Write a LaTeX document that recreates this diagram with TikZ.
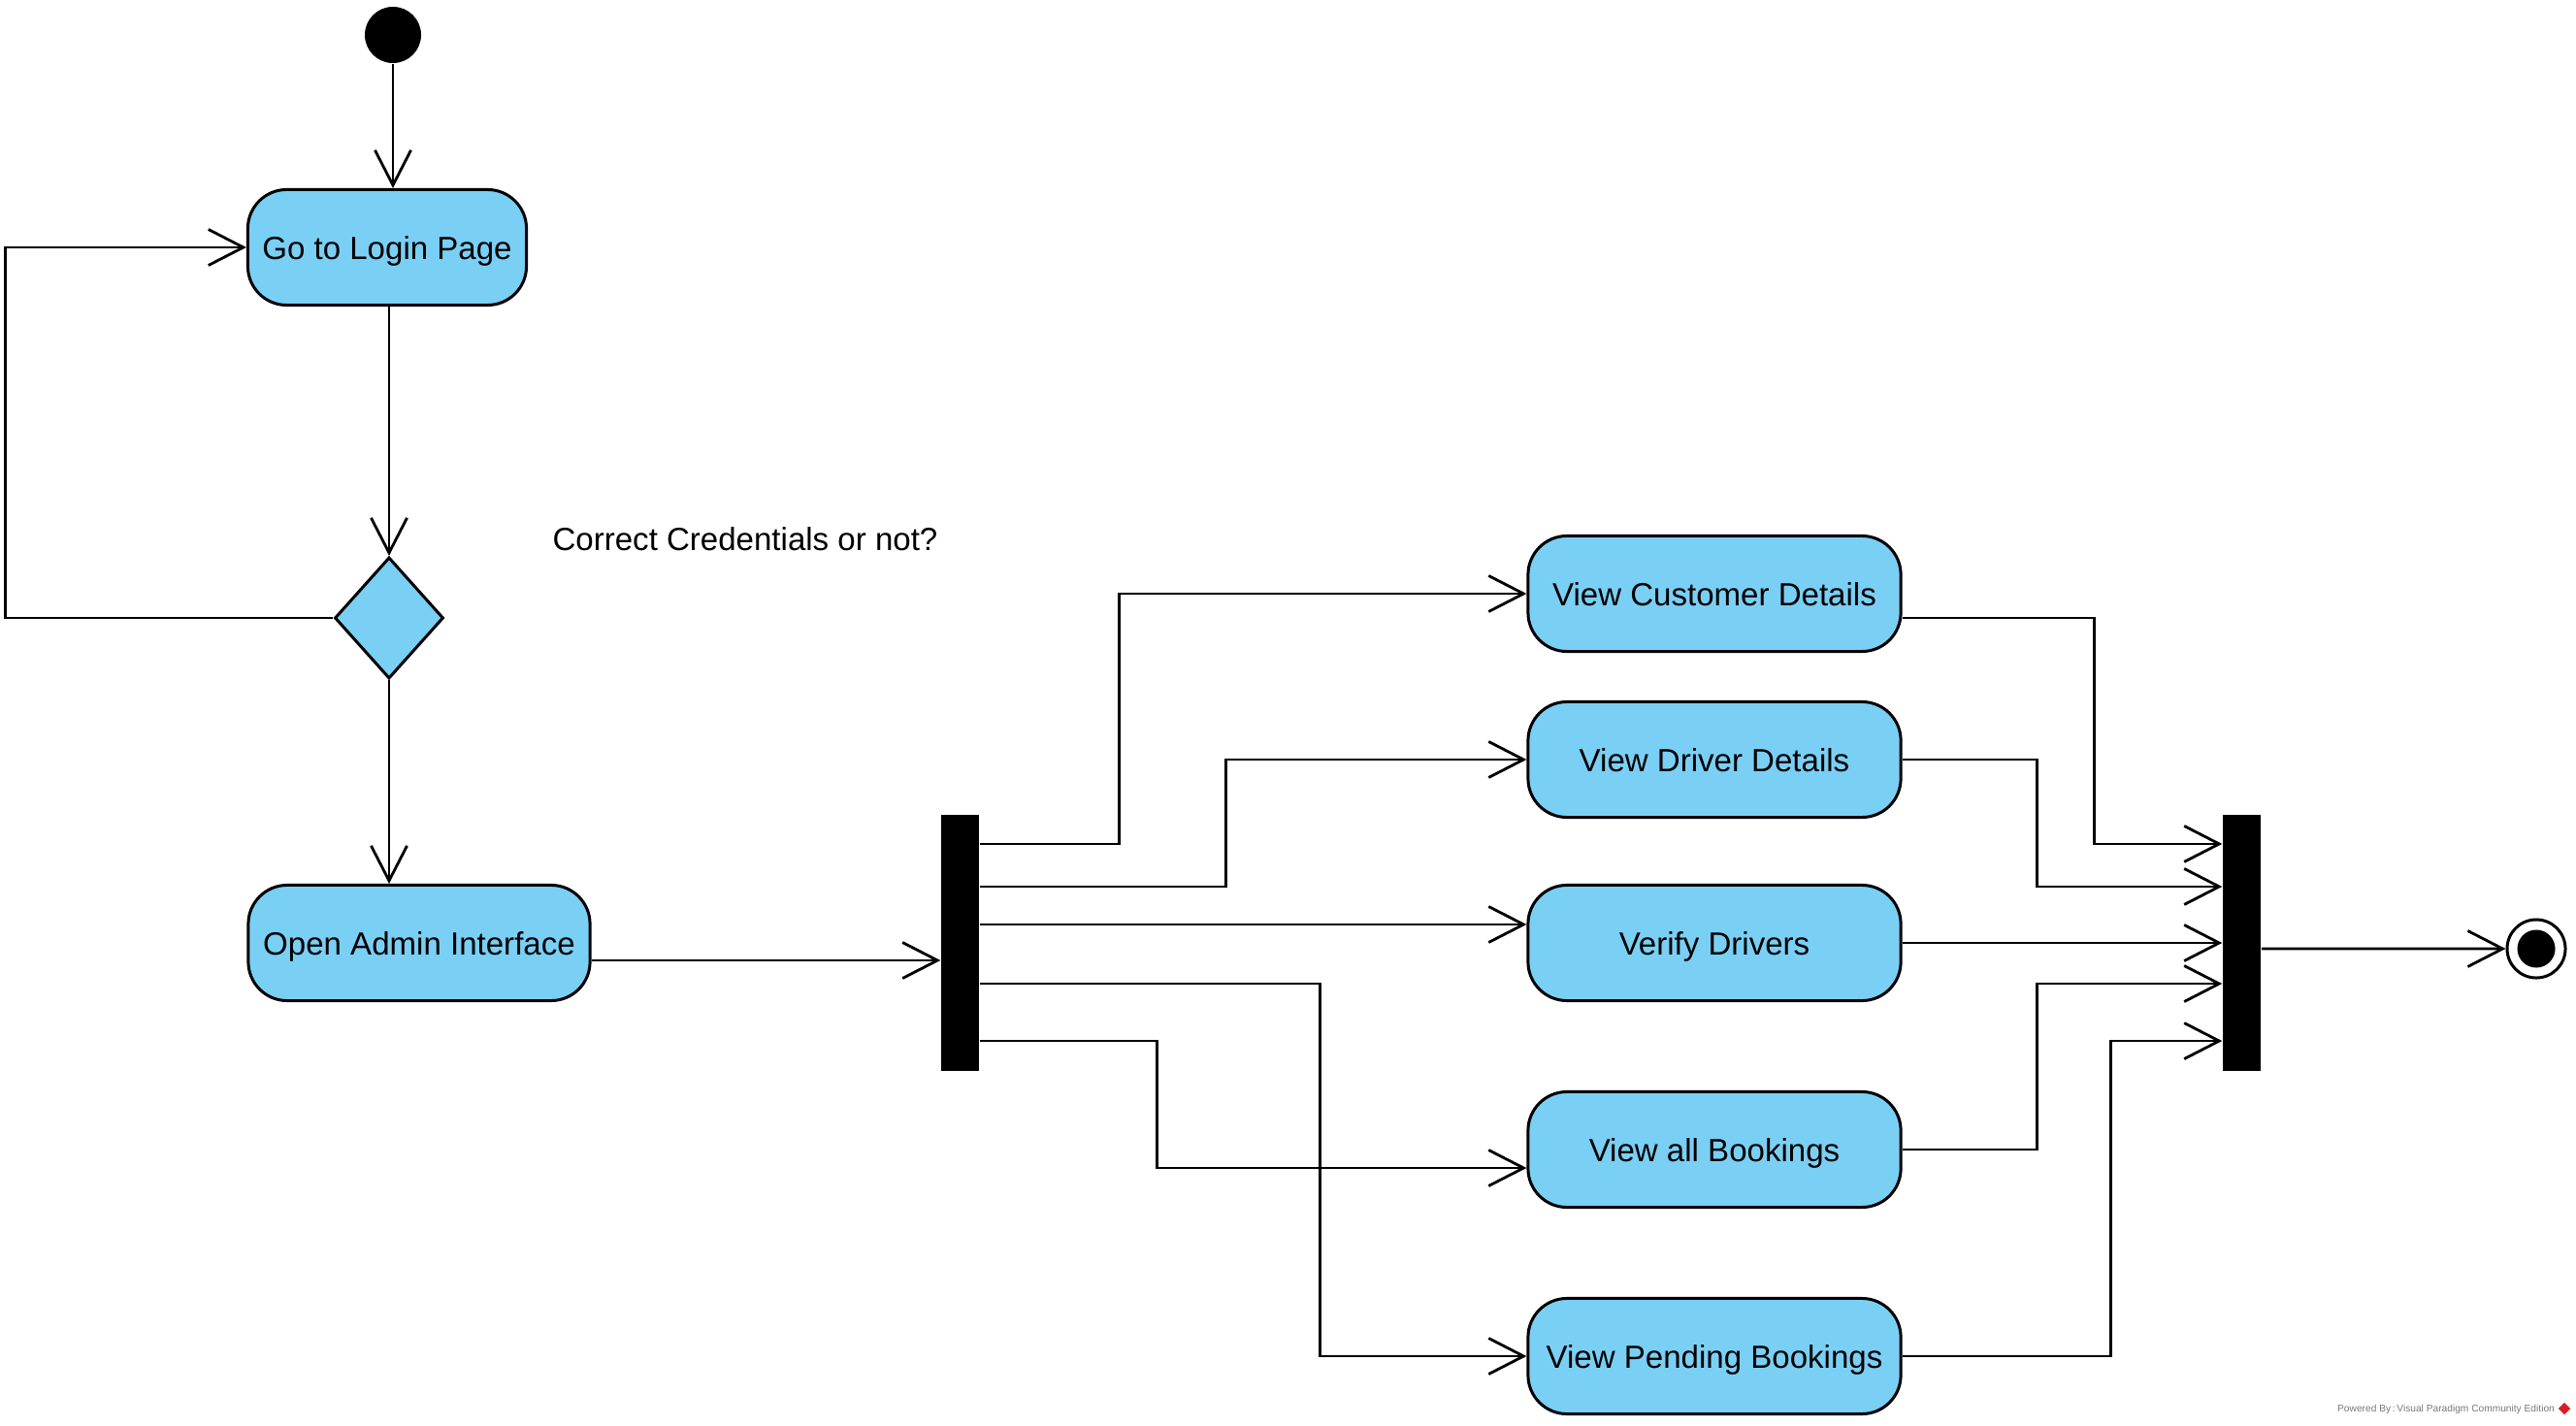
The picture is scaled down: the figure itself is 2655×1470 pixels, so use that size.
\documentclass[tikz,border=0pt]{standalone}
\usepackage{fontspec}
\setmainfont{Liberation Sans}
\usepackage{tikz}
\usetikzlibrary{shapes, arrows.meta, positioning, calc}
\definecolor{vpBlue}{RGB}{122,207,245}
\definecolor{vpGray}{RGB}{120,120,120}
\definecolor{vpRed}{RGB}{215,30,40}
\tikzset{
  action/.style={rectangle, rounded corners=0.4cm, draw=black, fill=vpBlue,
                 line width=0.85pt, minimum height=1.19cm, inner sep=2pt,
                 text height=0.716em, text depth=0pt,
                 font=\fontsize{9.4}{11}\selectfont},
  decision/.style={diamond, draw=black, fill=vpBlue, line width=0.85pt,
                   minimum width=1.12cm, minimum height=1.25cm, inner sep=0pt},
  bar/.style={rectangle, fill=black, minimum width=0.39cm,
              minimum height=2.64cm, inner sep=0pt},
  startN/.style={circle, fill=black, minimum size=0.58cm, inner sep=0pt},
  endN/.style={circle, draw=black, fill=white, line width=0.85pt,
               minimum size=0.6cm, inner sep=0pt,
               path picture={\fill[black] (path picture bounding box.center) circle (0.195cm);}},
  flow/.style={draw=black, line width=0.8pt,
               -{Straight Barb[length=0.36cm, width=0.37cm, line width=0.8pt]}},
  guard/.style={font=\fontsize{9.4}{11}\selectfont, text height=0.716em, text depth=0pt},
  wmark/.style={font=\fontsize{2.9}{3.5}\selectfont, text=vpGray, inner sep=0pt},
}

\begin{document}
\begin{tikzpicture}[x=0.01cm, y=-0.01cm]
    \useasboundingbox (0,0) rectangle (2655,1470);
    %% left column: login and check
    \node[startN] (init) at (405,36) {};
    \node[action, minimum width=2.87cm] (login) at (399,255) {Go to Login Page};
    \node[decision] (dec) at (401,637) {};
    \node[guard] (cred) at (768,555) {Correct Credentials or not?};
    \node[action, minimum width=3.52cm] (admin) at (432,972) {Open Admin Interface};
    %% fork and join bars
    \node[bar] (fork) at (989.5,972) {};
    \node[bar] (join) at (2310.5,972) {};
    \node[endN] (final) at (2614,978) {};
    %% admin actions
    \node[action, minimum width=3.84cm] (cust) at (1767,612) {View Customer Details};
    \node[action, minimum width=3.84cm] (drv) at (1767,783) {View Driver Details};
    \node[action, minimum width=3.84cm] (ver) at (1767,972) {Verify Drivers};
    \node[action, minimum width=3.84cm] (book) at (1767,1185) {View all Bookings};
    \node[action, minimum width=3.84cm] (pend) at (1767,1398) {View Pending Bookings};
    %% flows on the left
    \draw[flow] (init.south) -- (init.south |- login.north);
    \draw[flow] (login.south -| dec.north) -- (dec.north);
    \draw[flow] (dec.west) -- ++(-338,0) |- (login.west);
    \draw[flow] (dec.south) -- (dec.south |- admin.north);
    \draw[flow] ([yshift=-0.18cm]admin.east) -- ([yshift=-0.18cm]fork.west);
    %% fork outputs
    \draw[flow] ([yshift=1.02cm]fork.east) -- ++(144,0) |- (cust.west);
    \draw[flow] ([yshift=0.58cm]fork.east) -- ++(254,0) |- (drv.west);
    \draw[flow] ([yshift=0.19cm]fork.east) -- ([yshift=0.19cm]ver.west);
    \draw[flow] ([yshift=-0.42cm]fork.east) -- ++(351,0) |- (pend.west);
    \draw[flow] ([yshift=-1.01cm]fork.east) -- ++(183,0) |- ([yshift=-0.19cm]book.west);
    %% join inputs
    \draw[flow] ([yshift=-0.25cm]cust.east) -- ++(198,0) |- ([yshift=1.02cm]join.west);
    \draw[flow] (drv.east) -- ++(139,0) |- ([yshift=0.58cm]join.west);
    \draw[flow] (ver.east) -- (join.west);
    \draw[flow] (book.east) -- ++(139,0) |- ([yshift=-0.42cm]join.west);
    \draw[flow] (pend.east) -- ++(215,0) |- ([yshift=-1.01cm]join.west);
    \draw[flow] ([yshift=-0.06cm]join.east) -- (final.west);
    %% watermark
    \node[wmark] (vp) at (2521,1453) {Powered By\,:\,Visual Paradigm Community Edition};
    \node[diamond, fill=vpRed, minimum size=0.13cm, inner sep=0pt] (vplogo) at (2643,1452) {};
\end{tikzpicture}
\end{document}
